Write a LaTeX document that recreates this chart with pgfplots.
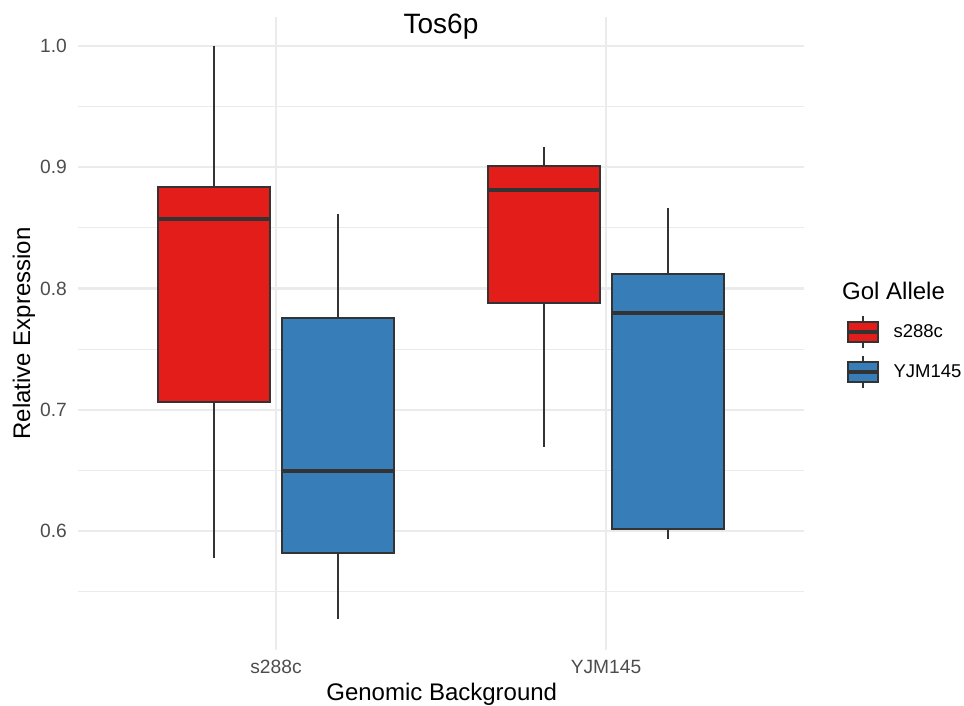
\documentclass[border=0pt]{standalone}
\usepackage{pgfplots}
\pgfplotsset{compat=1.18}
\usepgfplotslibrary{statistics}
\usepackage{fontspec}
\setmainfont{Liberation Sans}
\definecolor{setred}{HTML}{E31E1A}
\definecolor{setblue}{HTML}{377EB8}
\definecolor{gg20}{HTML}{333333}
\definecolor{gg30}{HTML}{4D4D4D}
\definecolor{gg92}{HTML}{EBEBEB}
\pgfplotsset{
  ggbox/.style={draw=gg20, line width=2bp, boxplot/draw direction=y,
    boxplot/every median/.style={line width=4bp},
    boxplot/every whisker/.style={draw=gg20, line width=2bp}},
}
\begin{document}
\begin{tikzpicture}
\useasboundingbox (0bp,0bp) rectangle (964bp,706bp);
\begin{axis}[
  at={(78bp,56bp)}, anchor=south west, scale only axis,
  width=726bp, height=633bp,
  xmin=0.4, xmax=2.6, ymin=0.5019, ymax=1.0239,
  axis line style={draw=none},
  major tick length=0pt, minor tick length=0pt,
  xtick={1,2}, xticklabels={s288c,YJM145},
  ytick={0.6,0.7,0.8,0.9,1.0},
  minor ytick={0.55,0.65,0.75,0.85,0.95},
  xmajorgrids, ymajorgrids, yminorgrids,
  major grid style={draw=gg92, line width=2.2bp},
  minor grid style={draw=gg92, line width=1.2bp},
  ticklabel style={font=\fontsize{19.2bp}{22bp}\selectfont, text=gg30},
  yticklabel style={anchor=east, inner sep=0pt, xshift=-11bp},
  xticklabel style={anchor=base, inner sep=0pt, yshift=-23bp},
  /pgf/number format/fixed,
  /pgf/number format/fixed zerofill,
  /pgf/number format/precision=1,
  /pgf/number format/assume math mode=true,
  xlabel={Genomic Background},
  xlabel style={at={(axis description cs:0.501,-0.0805)}, anchor=base, inner sep=0pt,
    font=\fontsize{24bp}{28bp}\selectfont},
  ylabel={Relative Expression},
  ylabel style={at={(axis description cs:-0.0745,0.5)}, anchor=center, inner sep=0pt,
    font=\fontsize{24bp}{28bp}\selectfont},
  title={Tos6p},
  every axis title shift=0pt,
  title style={at={(axis description cs:0.5,0.9652)}, anchor=south, inner sep=0pt,
    font=\fontsize{28bp}{32bp}\selectfont},
  legend style={at={(axis description cs:1.0579,0.5292)}, anchor=north west,
    draw=none, fill=none, inner sep=0pt, outer sep=0pt,
    nodes={inner sep=0pt}, row sep=6bp, column sep=14bp,
    font=\fontsize{18.5bp}{22bp}\selectfont},
  legend cell align=left,
]
\addplot[ggbox, fill=setred, boxplot prepared={draw position=0.8125, lower whisker=0.5777, lower quartile=0.7064,
    median=0.8573, upper quartile=0.8837, upper whisker=1.0, box extend=0.3375, whisker extend=0},
  legend image code/.code={
    \draw[draw=gg20, line width=2bp] (15bp,10bp) -- (15bp,16bp) (15bp,-10bp) -- (15bp,-16bp);
    \draw[draw=gg20, fill=setred, line width=2bp] (0bp,-10bp) rectangle (30bp,10bp);
    \draw[draw=gg20, line width=3.5bp] (0bp,0bp) -- (30bp,0bp);
  }] coordinates {};
\addlegendentry{s288c}
\addplot[ggbox, fill=setblue, boxplot prepared={draw position=1.1875, lower whisker=0.5274, lower quartile=0.5819,
    median=0.6495, upper quartile=0.7757, upper whisker=0.8614, box extend=0.3375, whisker extend=0},
  legend image code/.code={
    \draw[draw=gg20, line width=2bp] (15bp,10bp) -- (15bp,16bp) (15bp,-10bp) -- (15bp,-16bp);
    \draw[draw=gg20, fill=setblue, line width=2bp] (0bp,-10bp) rectangle (30bp,10bp);
    \draw[draw=gg20, line width=3.5bp] (0bp,0bp) -- (30bp,0bp);
  }] coordinates {};
\addlegendentry{YJM145}
\addplot[forget plot, ggbox, fill=setred, boxplot prepared={draw position=1.8125, lower whisker=0.6693, lower quartile=0.7880,
    median=0.8812, upper quartile=0.9010, upper whisker=0.9167, box extend=0.3375, whisker extend=0}] coordinates {};
\addplot[forget plot, ggbox, fill=setblue, boxplot prepared={draw position=2.1875, lower whisker=0.5934, lower quartile=0.6016,
    median=0.7798, upper quartile=0.8120, upper whisker=0.8664, box extend=0.3375, whisker extend=0}] coordinates {};
\end{axis}
\node[anchor=base west, inner sep=0pt, font=\fontsize{24bp}{28bp}\selectfont] at (842bp,406bp) {Gol Allele};
\end{tikzpicture}
\end{document}
